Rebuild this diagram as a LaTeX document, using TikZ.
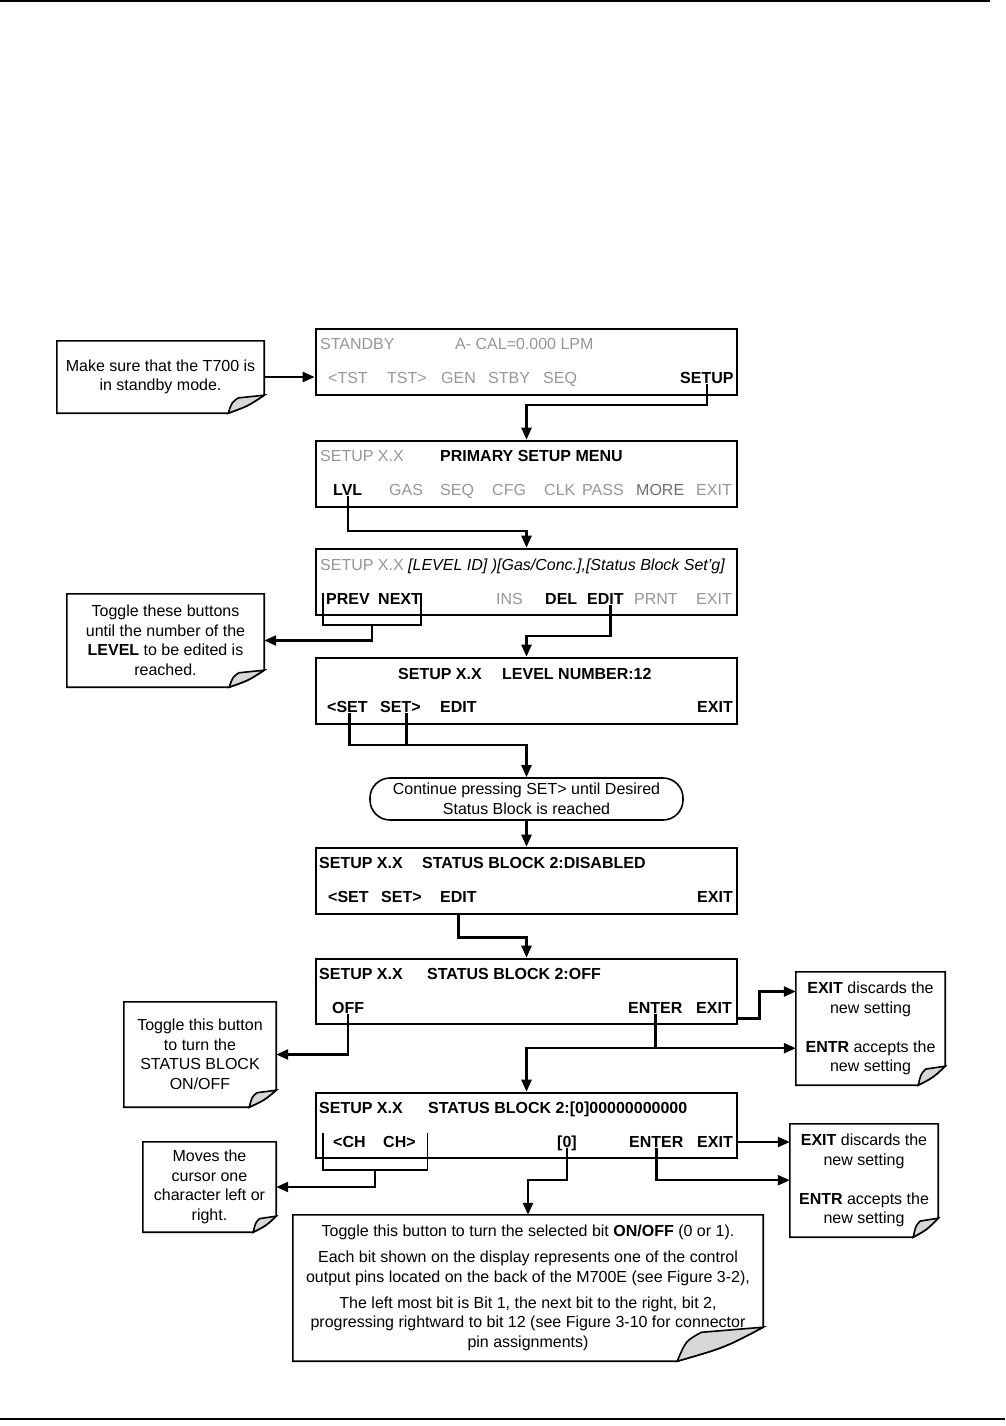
\documentclass[tikz,border=0pt]{standalone}
\usepackage{fontspec}
\setmainfont{Liberation Sans}
\usetikzlibrary{arrows.meta,calc}
\definecolor{dimtext}{RGB}{150,150,150}
\definecolor{midtext}{RGB}{110,110,110}
\definecolor{curlgray}{RGB}{215,215,215}
\newcommand\fsz{\fontsize{16}{19.5}\selectfont}
\newcommand\foldnote[3]{%
  \draw[frame] (#1.north west) -- (#1.north east) -- ([yshift=#3pt]#1.south east)
    .. controls ([xshift=-0.45*#2pt,yshift=0.4*#3pt]#1.south east) .. ([xshift=-#2pt]#1.south east)
    -- (#1.south west) -- cycle;
  \filldraw[frame, fill=curlgray] ([xshift=-#2pt]#1.south east)
    .. controls ([xshift=-0.9*#2pt,yshift=0.6*#3pt]#1.south east) .. ([xshift=-0.72*#2pt,yshift=0.85*#3pt]#1.south east)
    -- ([yshift=#3pt]#1.south east)
    .. controls ([xshift=-0.45*#2pt,yshift=0.4*#3pt]#1.south east) .. ([xshift=-#2pt]#1.south east) -- cycle;
}
\begin{document}
\begin{tikzpicture}[x=1pt,y=-1pt,
  lbl/.style={anchor=west, inner sep=0pt, text height=11.5pt, text depth=0pt, font=\fsz},
  bf/.style={font=\fsz\bfseries},
  dim/.style={text=dimtext},
  mid/.style={text=midtext},
  lcd/.style={draw, line width=2.6pt, inner sep=0pt, minimum width=421pt, minimum height=66pt},
  note/.style={inner sep=0pt, align=center, font=\fsz},
  frame/.style={line width=1.6pt, line join=miter},
  conn/.style={line width=2.4pt, -{Triangle[length=12pt,width=10pt]}},
  wire/.style={line width=2.4pt},
  brk/.style={line width=1.5pt},
]
\useasboundingbox (0,0) rectangle (1005,1426);
\draw[line width=2pt] (0,1) -- (990,1);
\draw[line width=2pt] (0,1419) -- (1005,1419);

% ---- display 1
\node[lcd] (d1) at (526.5,362) {};
\node[lbl,dim] (d1s) at (320,344) {STANDBY};
\node[lbl,dim] (d1c) at (455,344) {A- CAL=0.000 LPM};
\node[lbl,dim] (d1t1) at (328,378) {<TST};
\node[lbl,dim] (d1t2) at (387,378) {TST>};
\node[lbl,dim] (d1g) at (441,378) {GEN};
\node[lbl,dim] (d1sb) at (488,378) {STBY};
\node[lbl,dim] (d1q) at (543,378) {SEQ};
\node[lbl,bf] (setup) at (680,378) {SETUP};

% ---- display 2
\node[lcd] (d2) at (526.5,474) {};
\node[lbl,dim] (d2s) at (320,456) {SETUP X.X};
\node[lbl,bf] (d2m) at (440,456) {PRIMARY SETUP MENU};
\node[lbl,bf] (lvl) at (333,490) {LVL};
\node[lbl,dim] (d2gas) at (389,490) {GAS};
\node[lbl,dim] (d2seq) at (440,490) {SEQ};
\node[lbl,dim] (d2cfg) at (492,490) {CFG};
\node[lbl,dim] (d2clk) at (544,490) {CLK};
\node[lbl,dim] (d2pass) at (582,490) {PASS};
\node[lbl,mid] (d2more) at (636,490) {MORE};
\node[lbl,dim] (d2exit) at (696,490) {EXIT};

% ---- display 3
\node[lcd] (d3) at (526.5,582) {};
\node[lbl,dim] (d3s) at (320,565) {SETUP X.X};
\node[lbl,font=\fsz\itshape] (d3i) at (408,565) {[LEVEL ID] )[Gas/Conc.],[Status Block Set’g]};
\node[lbl,bf] (prev) at (326,599) {PREV};
\node[lbl,bf] (next) at (378,599) {NEXT};
\node[lbl,dim] (d3ins) at (496,599) {INS};
\node[lbl,bf] (d3del) at (545,599) {DEL};
\node[lbl,bf] (edit3) at (587,599) {EDIT};
\node[lbl,dim] (d3prnt) at (634,599) {PRNT};
\node[lbl,dim] (d3exit) at (696,599) {EXIT};

% ---- display 4
\node[lcd] (d4) at (526.5,691) {};
\node[lbl,bf] (d4s) at (398,674) {SETUP X.X};
\node[lbl,bf] (d4l) at (502,674) {LEVEL NUMBER:12};
\node[lbl,bf] (set4a) at (327,707) {<SET};
\node[lbl,bf] (set4b) at (380,707) {SET>};
\node[lbl,bf] (d4edit) at (440,707) {EDIT};
\node[lbl,bf] (d4exit) at (697,707) {EXIT};

% ---- rounded note
\node[draw, line width=1.6pt, rounded corners=20pt, minimum width=313pt, minimum height=42pt,
      align=center, font=\fsz, inner sep=0pt] (cont) at (526.5,799)
      {Continue pressing SET> until Desired\\Status Block is reached};

% ---- display 5
\node[lcd] (d5) at (526.5,881) {};
\node[lbl,bf] (d5s) at (319,863) {SETUP X.X};
\node[lbl,bf] (d5b) at (422,863) {STATUS BLOCK 2:DISABLED};
\node[lbl,bf] (d5a) at (328,897) {<SET};
\node[lbl,bf] (d5c) at (381,897) {SET>};
\node[lbl,bf] (edit5) at (440,897) {EDIT};
\node[lbl,bf] (d5exit) at (697,897) {EXIT};

% ---- display 6
\node[lcd, minimum height=65pt] (d6) at (526.5,991.5) {};
\node[lbl,bf] (d6s) at (319,974) {SETUP X.X};
\node[lbl,bf] (d6b) at (427,974) {STATUS BLOCK 2:OFF};
\node[lbl,bf] (off6) at (332,1008) {OFF};
\node[lbl,bf] (enter6) at (628,1008) {ENTER};
\node[lbl,bf] (exit6) at (696,1008) {EXIT};

% ---- display 7
\node[lcd, minimum height=65pt] (d7) at (526.5,1125.5) {};
\node[lbl,bf] (d7s) at (319,1108) {SETUP X.X};
\node[lbl,bf] (d7b) at (428,1108) {STATUS BLOCK 2:[0]00000000000};
\node[lbl,bf] (ch1) at (333,1142) {<CH};
\node[lbl,bf] (ch2) at (383,1142) {CH>};
\node[lbl,bf] (b0) at (557,1142) {[0]};
\node[lbl,bf] (enter7) at (629,1142) {ENTER};
\node[lbl,bf] (exit7) at (697,1142) {EXIT};

% ---- callouts
\node[note, minimum width=207pt, minimum height=72pt] (cal1) at (160.5,377)
  {Make sure that the T700 is\\in standby mode.};
\foldnote{cal1}{36}{18}
\node[note, minimum width=197pt, minimum height=93pt] (cal2) at (165.5,640.5)
  {Toggle these buttons\\until the number of the\\\textbf{LEVEL} to be edited is\\reached.};
\foldnote{cal2}{35}{17}
\node[note, minimum width=152pt, minimum height=105pt] (cal3) at (200,1054.5)
  {Toggle this button\\to turn the\\STATUS BLOCK\\ON/OFF};
\foldnote{cal3}{27}{17}
\node[note, minimum width=149pt, minimum height=113pt] (cal4) at (870.5,1028.5)
  {\textbf{EXIT} discards the\\new setting\\[19.5pt]\textbf{ENTR} accepts the\\new setting};
\foldnote{cal4}{27}{19}
\node[note, minimum width=133pt, minimum height=90pt] (cal5) at (209.5,1187)
  {Moves the\\cursor one\\character left or\\right.};
\foldnote{cal5}{23}{16}
\node[note, minimum width=148pt, minimum height=113pt] (cal6) at (864,1180.5)
  {\textbf{EXIT} discards the\\new setting\\[19.5pt]\textbf{ENTR} accepts the\\new setting};
\foldnote{cal6}{25}{19}
\node[note, minimum width=470pt, minimum height=146pt] (cal7) at (528,1288)
  {Toggle this button to turn the selected bit \textbf{ON/OFF} (0 or 1).\\[6.5pt]
   Each bit shown on the display represents one of the control\\
   output pins located on the back of the M700E (see Figure 3-2),\\[6.5pt]
   The left most bit is Bit 1, the next bit to the right, bit 2,\\
   progressing rightward to bit 12 (see Figure 3-10 for connector\\
   pin assignments)};
\foldnote{cal7}{86}{34}

% ---- connectors
\draw[conn] (cal1.east) -- (cal1.east -| d1.west);
\draw[conn] (setup.south) -- ++(0,21.25) -| (d2.north);
\draw[conn] (lvl.south) -- ++(0,35.25) -| (d3.north);
\draw[brk] ([xshift=-3pt,yshift=6pt]prev.west) -- ([xshift=-3pt,yshift=-26pt]prev.west) coordinate (b1b)
   -- ([yshift=-26pt]next.east) coordinate (b1c) -- ([yshift=6pt]next.east);
\coordinate (b1m) at ($(b1b)!0.5!(b1c)$);
\draw[conn] (b1m) |- (cal2.east);
\draw[conn] ([xshift=5pt]edit3.south) -- ++(0,31.25) -| (d4.north);
\draw[conn] ([xshift=2pt]set4a.south) -- ++(0,32.25) -| (cont.north);
\draw[wire] ([xshift=6pt]set4b.south) -- ++(0,32.25);
\draw[conn] (cont.south) -- (d5.north);
\draw[conn] (edit5.south |- d5.south) -- ++(0,22) -| (d6.north);
\draw[conn] (off6.south) |- (cal3.east);
\draw[conn] ([yshift=-27pt]d6.east) -- ++(21,0) |- (d6.east -| cal4.west);
\draw[conn] (enter6.south) -- ++(0,34.25) coordinate (j6) -| (d7.north);
\draw[conn] (j6) -- (j6 -| cal4.west);
\draw[brk] ([xshift=-10pt,yshift=9pt]ch1.west) -- ([xshift=-10pt,yshift=-28pt]ch1.west) coordinate (b2b)
   -- ([xshift=11.6pt,yshift=-28pt]ch2.east) coordinate (b2c) -- ([xshift=11.6pt,yshift=9pt]ch2.east);
\coordinate (b2m) at ($(b2b)!0.5!(b2c)$);
\draw[conn] (b2m) |- (cal5.east);
\draw[conn] (b0.south) -- ++(0,32.25) -| (cal7.north);
\draw[conn] (d7.east |- exit7.east) -- (exit7.east -| cal6.west);
\draw[conn] (enter7.south) -- ++(0,32.25) coordinate (j7) -- (j7 -| cal6.west);
\end{tikzpicture}
\end{document}
